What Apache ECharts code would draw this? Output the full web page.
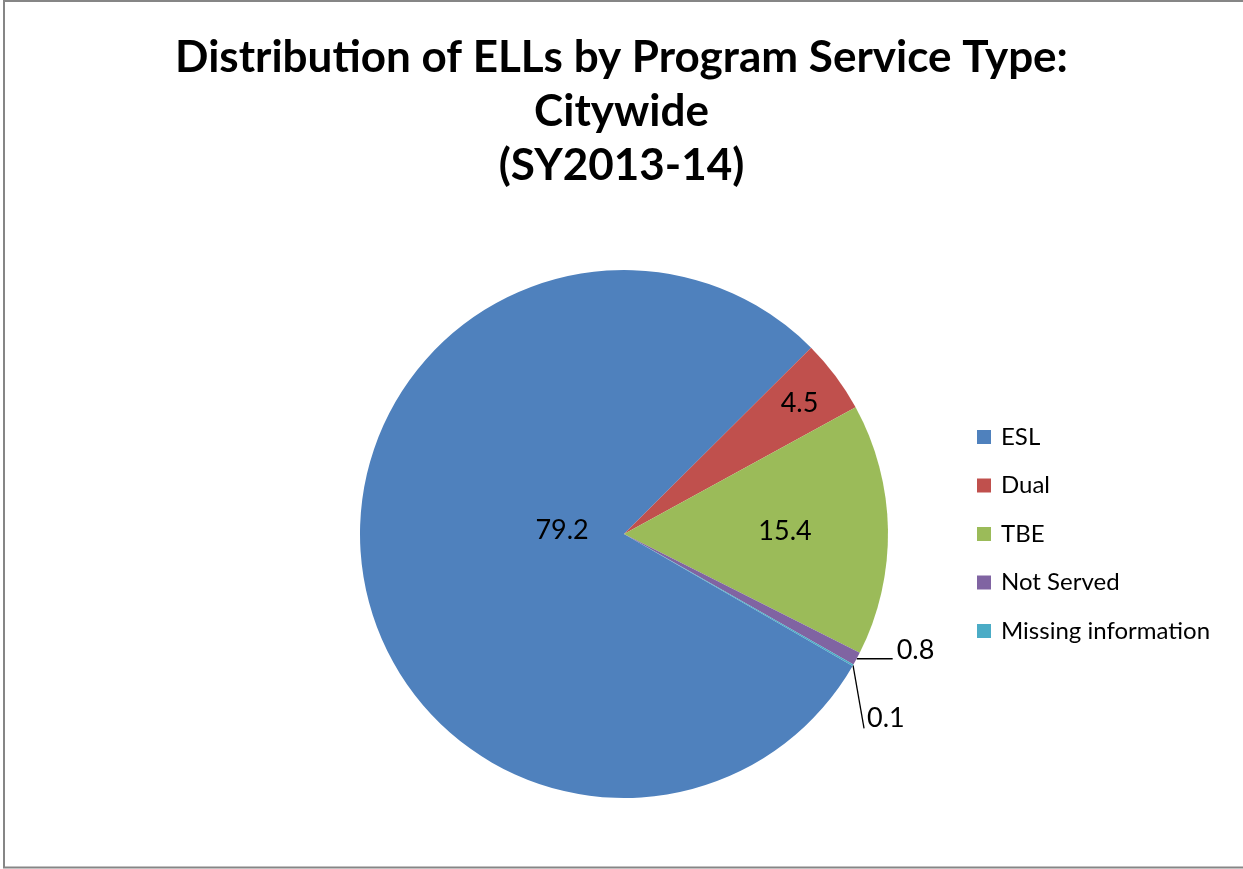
<!DOCTYPE html>
<html>
<head>
<meta charset="utf-8">
<title>Distribution of ELLs by Program Service Type</title>
<script src="https://cdn.jsdelivr.net/npm/echarts@6/dist/echarts.min.js"></script>
<style>
  html, body { margin: 0; padding: 0; background: #ffffff; }
  #chart { width: 1243px; height: 869px; }
</style>
</head>
<body>
<div id="chart"></div>
<script>
// Program service types and their share of ELLs (percent)
const categories = ['ESL', 'Dual', 'TBE', 'Not Served', 'Missing information'];
const shares = [79.2, 4.5, 15.4, 0.8, 0.1];
const sliceColors = ['#4F81BD', '#C0504D', '#9BBB59', '#8064A2', '#4BACC6'];

// Pie geometry
const CX = 624, CY = 534, R = 264;
const FIRST_SLICE_CW_FROM_TOP = 120;       // first slice starts 120° clockwise from 12 o'clock
const START_ANGLE = 90 - FIRST_SLICE_CW_FROM_TOP;

// Inside labels: fraction of the radius and angular nudge (degrees) from the slice's mid angle
const insideLabelRadius = [0.235, 0.83, 0.61];
const insideLabelTurn = [11, 0, 0];

const total = shares.reduce((a, b) => a + b, 0);
const midAngles = [];
(function () {
  let acc = 0;
  shares.forEach(v => {
    midAngles.push(FIRST_SLICE_CW_FROM_TOP + 360 * (acc + v / 2) / total);
    acc += v;
  });
})();

function polar(angleCwFromTop, r) {
  const a = angleCwFromTop * Math.PI / 180;
  return [CX + r * Math.sin(a), CY - r * Math.cos(a)];
}

const FONT = 'Lato, "Open Sans", sans-serif';

const chart = echarts.init(document.getElementById('chart'), null, { renderer: 'canvas' });

chart.setOption({
  backgroundColor: '#ffffff',
  animation: false,
  color: sliceColors,
  graphic: [{
    type: 'rect',
    silent: true,
    shape: { x: 4, y: 1, width: 1250, height: 866.5 },
    style: { fill: 'none', stroke: '#868686', lineWidth: 2 }
  }],
  title: {
    text: 'Distribution of ELLs by Program Service Type:\nCitywide\n(SY2013-14)',
    left: 'center',
    top: 26,
    textStyle: {
      fontFamily: FONT,
      fontWeight: 'bold',
      fontSize: 44,
      lineHeight: 54,
      color: '#000000'
    }
  },
  legend: {
    orient: 'vertical',
    left: 977,
    top: 425,
    padding: 0,
    itemWidth: 14,
    itemHeight: 14,
    itemGap: 24.5,
    icon: 'rect',
    data: categories,
    textStyle: { fontFamily: FONT, fontSize: 24, lineHeight: 24, color: '#000000', padding: [0, 0, 0, 5] }
  },
  series: [{
    type: 'pie',
    center: [CX, CY],
    radius: R,
    startAngle: START_ANGLE,
    clockwise: true,
    avoidLabelOverlap: false,
    minShowLabelAngle: 0,
    itemStyle: { borderWidth: 0 },
    emphasis: { disabled: true },
    label: {
      show: true,
      formatter: p => p.value.toFixed(1),
      fontFamily: FONT,
      fontSize: 27,
      color: '#000000'
    },
    labelLine: { show: true, lineStyle: { color: '#000000', width: 1.3 } },
    data: categories.map((name, i) => ({
      name: name,
      value: shares[i],
      label: { position: i < 3 ? 'inside' : 'outside' },
      labelLine: { show: i >= 3 }
    })),
    labelLayout: function (params) {
      const i = params.dataIndex;
      if (i < 3) {
        const p = polar(midAngles[i] + insideLabelTurn[i], R * insideLabelRadius[i]);
        return { x: p[0], y: p[1], align: 'center', verticalAlign: 'middle' };
      }
      const edge = polar(midAngles[i], R);
      if (i === 3) {
        const end = [edge[0] + 36, edge[1]];
        return {
          x: end[0] + 4, y: edge[1] - 8, align: 'left', verticalAlign: 'middle',
          labelLinePoints: [edge, end, end]
        };
      }
      const end = [edge[0] + 11, edge[1] + 63];
      return {
        x: edge[0] + 14, y: edge[1] + 53, align: 'left', verticalAlign: 'middle',
        labelLinePoints: [edge, end, end]
      };
    }
  }]
});
</script>
</body>
</html>
